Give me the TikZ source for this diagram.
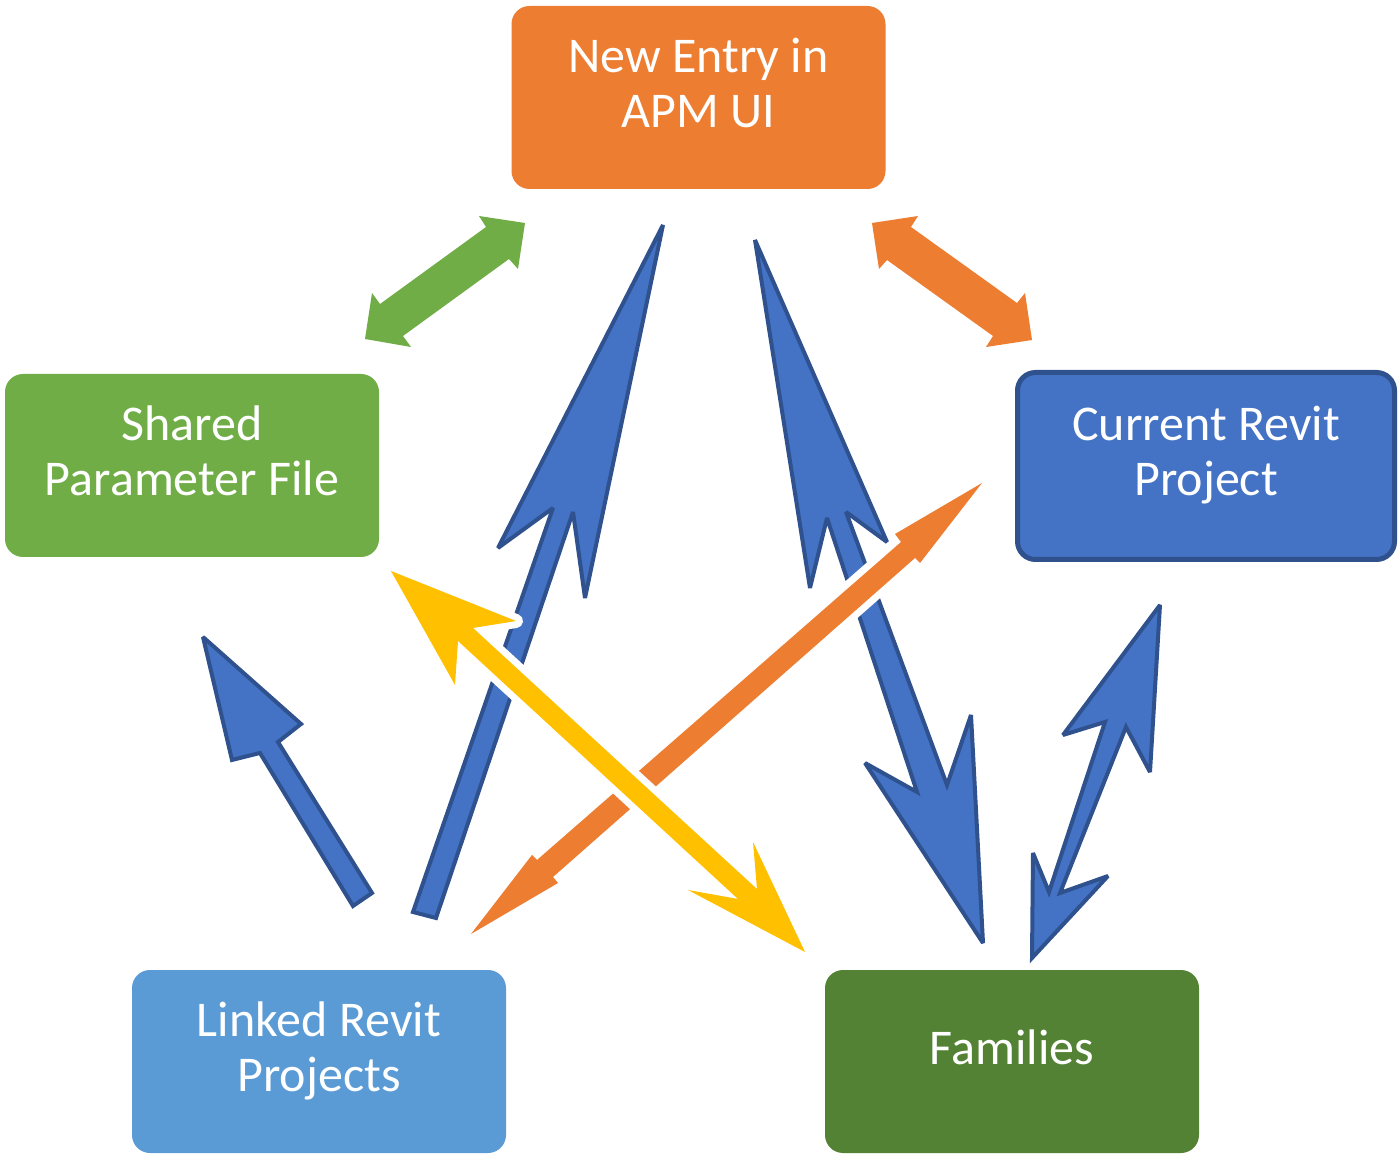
\documentclass[tikz,border=0pt]{standalone}
\usepackage{fontspec}
\setmainfont{Carlito}
\usepackage{tikz}
\usepackage{xcolor}

\definecolor{apmorange}{HTML}{ED7D31}
\definecolor{spgreen}{HTML}{70AD47}
\definecolor{revitblue}{HTML}{4472C4}
\definecolor{revitline}{HTML}{2F528F}
\definecolor{linkblue}{HTML}{5B9BD5}
\definecolor{famgreen}{HTML}{548235}
\definecolor{spyellow}{HTML}{FFC000}
\newcommand{\boxfont}{\fontsize{25}{27.5}\selectfont\lineskiplimit=-\maxdimen\relax}
\newcommand{\boxstrut}{\rule[-17.5pt]{0pt}{37.5pt}}

\begin{document}
\begin{tikzpicture}[x=0.5pt, y=-0.5pt,
  box/.style={rounded corners=9pt, minimum width=187pt, minimum height=91.5pt, inner sep=0pt,
    text=white, align=center, font=\boxfont},
  blockarrow/.style={fill=revitblue, draw=revitline, line width=2pt, miter limit=3},
  crossarrow/.style={preaction={draw=white, line width=7pt, line join=round}}]
\useasboundingbox (0, 0) rectangle (1398, 1159);
\node [box, fill=apmorange] (apm) at (698.5, 97.5) {\boxstrut New Entry in\\\boxstrut APM UI};
\node [box, fill=spgreen] (shared) at (192, 465.5) {\boxstrut Shared\\\boxstrut Parameter File};
\node [box, fill=revitblue, draw=revitline, line width=2.5pt, minimum width=188.5pt, minimum height=93.5pt] (current) at (1206, 466) {\boxstrut Current Revit\\\boxstrut Project};
\node [box, fill=linkblue] (linked) at (319, 1061.5) {\boxstrut Linked Revit\\\boxstrut Projects};
\node [box, fill=famgreen] (families) at (1012, 1061.5) {\boxstrut Families};
\fill [spgreen] (525, 223) -- (518, 269) -- (509, 259) -- (403, 336) -- (411, 347) -- (365, 339)
  -- (372, 293) -- (380, 304) -- (486, 227) -- (479, 216) -- cycle;
\fill [apmorange] (872, 223) -- (918, 216) -- (911, 227) -- (1017, 303) -- (1025, 293) -- (1032, 340)
  -- (986, 347) -- (993, 336) -- (887, 260) -- (879, 269) -- cycle;
\draw [blockarrow] (663, 225) -- (585, 598) -- (573, 512) -- (436, 918) -- (413, 912) -- (553, 508)
  -- (498, 548) -- cycle;
\draw [blockarrow] (755, 240) -- (887, 542) -- (846, 512) -- (947, 785) -- (971, 715) -- (983, 943)
  -- (865, 763) -- (917, 792) -- (827, 518) -- (810, 588) -- cycle;
\draw [blockarrow] (203, 637) -- (301, 724) -- (278, 742) -- (372, 893) -- (353, 906) -- (260, 753)
  -- (232, 760) -- cycle;
\draw [blockarrow] (1160, 605) -- (1150, 772) -- (1126, 727) -- (1060, 893) -- (1108, 876) -- (1032, 958)
  -- (1033, 853) -- (1049, 892) -- (1105, 722) -- (1063, 735) -- cycle;
\fill [crossarrow, apmorange] (982, 483) -- (920, 563) -- (915, 558) -- (553, 877) -- (558, 883) -- (471, 934)
  -- (532, 855) -- (537, 860) -- (901, 542) -- (895, 534) -- cycle;
\fill [crossarrow, spyellow] (391, 571) -- (516, 621) -- (473, 628) -- (757, 889) -- (753, 842) -- (805, 952)
  -- (688, 890) -- (738, 899) -- (458, 641) -- (455, 685) -- cycle;
\end{tikzpicture}
\end{document}
